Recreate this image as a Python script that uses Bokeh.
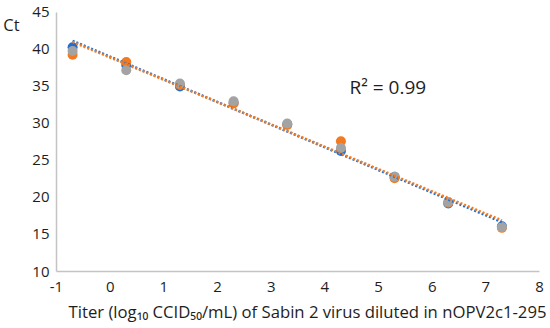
import numpy as np
from bokeh.plotting import figure
from bokeh.models import Range1d, Label, FixedTicker
from bokeh.embed import file_html
from bokeh.resources import INLINE

x_vals = [-0.7, 0.3, 1.3, 2.3, 3.3, 4.3, 5.3, 6.3, 7.3]
blue_ct = [40.3, 37.9, 35.0, 32.8, 29.9, 26.3, 22.8, 19.2, 16.1]
orange_ct = [39.3, 38.3, 35.2, 32.7, 29.8, 27.6, 22.6, 19.3, 15.9]
gray_ct = [39.8, 37.2, 35.4, 33.0, 30.0, 26.7, 22.8, 19.4, 16.0]
x_ticks = [-1, 0, 1, 2, 3, 4, 5, 6, 7, 8]
y_ticks = [10, 15, 20, 25, 30, 35, 40, 45]
x_title = "Titer (log\u2081\u2080 CCID\u2085\u2080/mL) of Sabin 2 virus diluted in nOPV2c1-295"
y_title = "Ct"
r2_text = "R\u00b2 = 0.99"

BLUE = "#1f6fd0"
ORANGE = "#f47a20"
GRAY = "#a3a3a3"
FONT = "Open Sans"
TXT = "#1e1e1e"

# frame fills the whole canvas; axes are pinned at x=-1 and y=10
p = figure(width=550, height=328, output_backend="svg", toolbar_location=None,
           x_range=Range1d(-2.0435, 8.205), y_range=Range1d(2.2973, 46.6216),
           min_border=0)
p.outline_line_color = None
p.grid.visible = False

for ax in (p.xaxis, p.yaxis):
    ax.axis_line_color = "#c4c4c4"
    ax.axis_line_width = 1.5
    ax.major_tick_line_color = None
    ax.minor_tick_line_color = None
    ax.major_tick_out = 0
    ax.major_tick_in = 0
    ax.minor_tick_out = 0
    ax.minor_tick_in = 0
    ax.major_label_text_font = FONT
    ax.major_label_text_font_size = "15px"
    ax.major_label_text_color = TXT
p.xaxis.ticker = FixedTicker(ticks=x_ticks)
p.yaxis.ticker = FixedTicker(ticks=y_ticks)
p.xaxis.major_label_overrides = {t: str(t) for t in x_ticks}
p.xaxis.fixed_location = y_ticks[0]
p.yaxis.fixed_location = x_ticks[0]
p.xaxis.bounds = (x_ticks[0], x_ticks[-1])
p.yaxis.bounds = (y_ticks[0], y_ticks[-1])
p.xaxis.major_label_standoff = 10
p.yaxis.major_label_standoff = 7

xs = np.array(x_vals)
for ys, c in [(blue_ct, BLUE), (orange_ct, ORANGE), (gray_ct, GRAY)]:
    p.scatter(x_vals, ys, size=10, color=c, line_color=None)

xl = np.array([x_vals[0], x_vals[-1]])
for ys, c in [(blue_ct, BLUE), (orange_ct, ORANGE)]:
    m, b = np.polyfit(xs, np.array(ys), 1)
    p.line(xl, m * xl + b, line_color=c, line_width=2.5, line_dash="2 2")

p.add_layout(Label(x=4.4595, y=34.865, text=r2_text, text_font=FONT,
                   text_font_size="19px", text_color=TXT, text_baseline="middle"))
p.add_layout(Label(x=-1.8385, y=43.378, text=y_title, text_font=FONT,
                   text_font_size="16.5px", text_color=TXT, text_baseline="middle",
                   text_align="center"))
p.add_layout(Label(x=3.677, y=4.6, text=x_title, text_font=FONT,
                   text_font_size="16.7px", text_color=TXT, text_baseline="middle",
                   text_align="center"))

open("out.html", "w").write(file_html(p, INLINE))
